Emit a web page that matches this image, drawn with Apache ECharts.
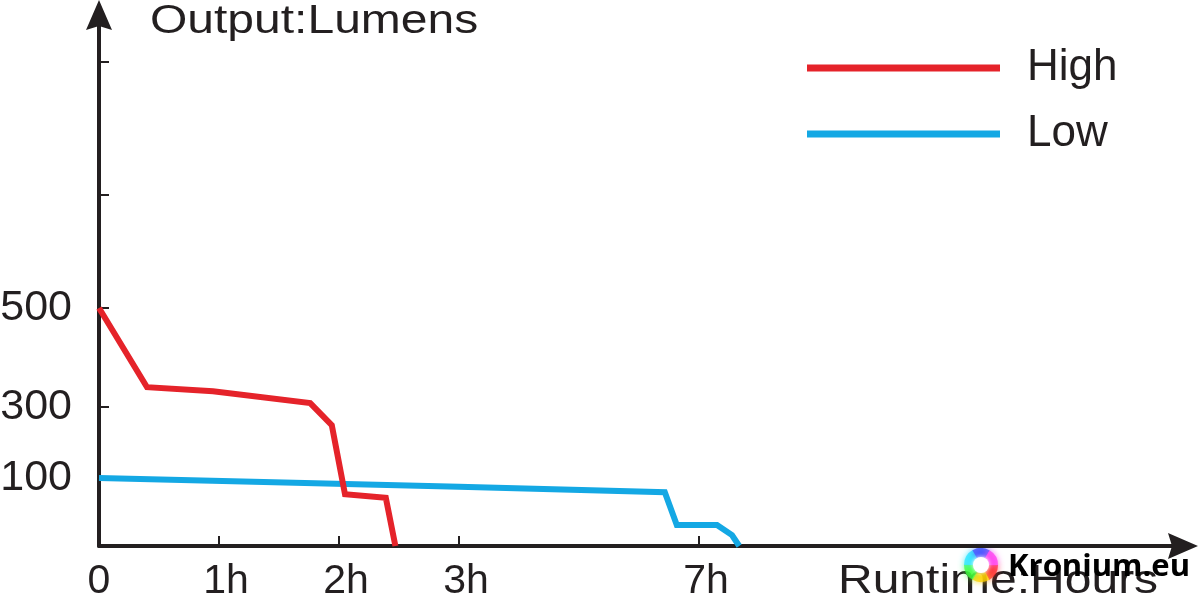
<!DOCTYPE html>
<html>
<head>
<meta charset="utf-8">
<script src="https://cdn.jsdelivr.net/npm/echarts@6/dist/echarts.min.js"></script>
<style>
html,body{margin:0;padding:0;background:#fff;}
#c{width:1200px;height:596px;}
</style>
</head>
<body>
<div id="c"></div>
<script>
// ---- data (hours, lumens) ----
var seriesNames = ['High', 'Low'];
var highHours   = [0, 0.40, 0.95, 1.76, 1.94, 2.05, 2.39, 2.47];
var highLumens  = [500, 340, 332, 308, 249, 76, 71, 0];
var lowHours    = [0, 3.0, 6.43, 6.63, 7.30, 7.55, 7.67];
var lowLumens   = [100, 87, 79, 31, 31, 16, 0];

// ---- axis ticks / labels ----
var xTickHours  = [1, 2, 3, 7];
var xLabelHours = [0, 1, 2, 3, 7];
var xLabelText  = ['0', '1h', '2h', '3h', '7h'];
var yLabelLumens = [100, 300, 500];
var yLabelText   = ['100', '300', '500'];

// The printed axes are not linear: piecewise scale breakpoints
var xBreakHours = [0, 1, 2, 3, 7];
var xBreakUnits = [0, 1, 2, 3, 5];
var yBreakLumens = [0, 100, 300, 500];
var yBreakUnits  = [0, 68, 139, 238];
var yExtraTickUnits = [351, 484];

function piecewise(v, from, to) {
  var n = from.length;
  for (var i = 0; i < n - 1; i++) {
    if (v <= from[i + 1]) {
      return to[i] + (v - from[i]) * (to[i + 1] - to[i]) / (from[i + 1] - from[i]);
    }
  }
  var s = (to[n - 1] - to[n - 2]) / (from[n - 1] - from[n - 2]);
  return to[n - 1] + (v - from[n - 1]) * s;
}
function xs(h) { return piecewise(h, xBreakHours, xBreakUnits); }
function ys(l) { return piecewise(l, yBreakLumens, yBreakUnits); }
function pairs(hs, ls) { return hs.map(function (h, i) { return [xs(h), ys(ls[i])]; }); }

var ink = '#231f20';
var red = '#e5232a';
var blue = '#14a8e4';
var font = '"Liberation Sans", Arial, sans-serif';
var arrowPath = 'path://M13,0 L26,30 L13,26 L0,30 Z';

var xLabelUnits = xLabelHours.map(xs);
var yLabelUnits = yLabelLumens.map(ys);

function nearestLabel(v, units, texts) {
  var best = 0;
  for (var i = 1; i < units.length; i++) {
    if (Math.abs(units[i] - v) < Math.abs(units[best] - v)) best = i;
  }
  return texts[best];
}

var chart = echarts.init(document.getElementById('c'), null, {renderer: 'canvas'});

var ringColors = ['#ff2a2a', '#ffd200', '#3cff3c', '#28e6ff', '#3a4bff', '#ff3cf0'];
var ring = ringColors.map(function (c, i) {
  return {
    type: 'sector',
    shape: {cx: 0, cy: 0, r0: 7, r: 17,
      startAngle: i * Math.PI / 3, endAngle: (i + 1) * Math.PI / 3 + 0.02},
    style: {fill: c, opacity: 0.75, shadowBlur: 6, shadowColor: c}
  };
});

chart.setOption({
  animation: false,
  backgroundColor: '#ffffff',
  grid: {left: 99, right: 17, top: 15, bottom: 50, containLabel: false, outerBoundsMode: 'none'},
  legend: {
    data: seriesNames,
    orient: 'vertical',
    left: 807,
    top: 42,
    padding: 0,
    icon: 'rect',
    itemWidth: 193,
    itemHeight: 7,
    itemGap: 14,
    textStyle: {fontSize: 44, fontFamily: font, color: ink, lineHeight: 44, padding: [0, 0, 8, 22]}
  },
  xAxis: {
    type: 'value',
    min: 0,
    max: (1183 - 99) / 120,
    splitLine: {show: false},
    axisLine: {show: true, onZero: false, symbol: ['none', arrowPath], symbolSize: [26, 30],
      lineStyle: {color: ink, width: 4}},
    axisTick: {show: true, inside: true, length: 10, lineStyle: {color: ink, width: 2},
      customValues: xTickHours.map(xs)},
    axisLabel: {
      show: true, margin: 15, color: ink, fontSize: 41, fontFamily: font,
      customValues: xLabelUnits,
      formatter: function (v) {
        var t = nearestLabel(v, xLabelUnits, xLabelText);
        return t === '0' ? '{z|' + t + '}' : '{h|' + t + '}';
      },
      rich: {
        z: {fontSize: 41, fontFamily: font, color: ink},
        h: {fontSize: 41, fontFamily: font, color: ink, padding: [0, 0, 0, 14]}
      }
    }
  },
  yAxis: {
    type: 'value',
    min: 0,
    max: 531,
    splitLine: {show: false},
    axisLine: {show: true, onZero: false, symbol: ['none', arrowPath], symbolSize: [26, 30],
      lineStyle: {color: ink, width: 4}},
    axisTick: {show: true, inside: true, length: 10, lineStyle: {color: ink, width: 2},
      customValues: yLabelUnits.concat(yExtraTickUnits)},
    axisLabel: {
      show: true, margin: 27, color: ink, fontSize: 43, fontFamily: font,
      customValues: yLabelUnits,
      formatter: function (v) { return nearestLabel(v, yLabelUnits, yLabelText); }
    }
  },
  series: [
    {name: 'High', type: 'line', data: pairs(highHours, highLumens), showSymbol: false,
      color: red, lineStyle: {color: red, width: 6, join: 'miter'}, z: 3},
    {name: 'Low', type: 'line', data: pairs(lowHours, lowLumens), showSymbol: false,
      color: blue, lineStyle: {color: blue, width: 6, join: 'miter'}, z: 2}
  ],
  graphic: [
    {type: 'text', x: 150, y: 22, scaleX: 1.2,
      style: {text: 'Output:Lumens', font: '40px ' + font, fill: ink, align: 'left', verticalAlign: 'middle'}},
    {type: 'text', x: 838, y: 582, scaleX: 1.2,
      style: {text: 'Runtime:Hours', font: '40px ' + font, fill: ink, align: 'left', verticalAlign: 'middle'}},
    {type: 'group', x: 981, y: 565, children: ring.concat([
      {type: 'circle', shape: {cx: 0, cy: 0, r: 8}, style: {fill: '#ffffff', shadowBlur: 4, shadowColor: '#ffffff'}}
    ])},
    {type: 'text', x: 1008, y: 567,
      style: {text: 'Kronium.eu', font: 'bold 31px "Open Sans", sans-serif', fill: '#000000', align: 'left', verticalAlign: 'middle'}}
  ]
});
</script>
</body>
</html>
